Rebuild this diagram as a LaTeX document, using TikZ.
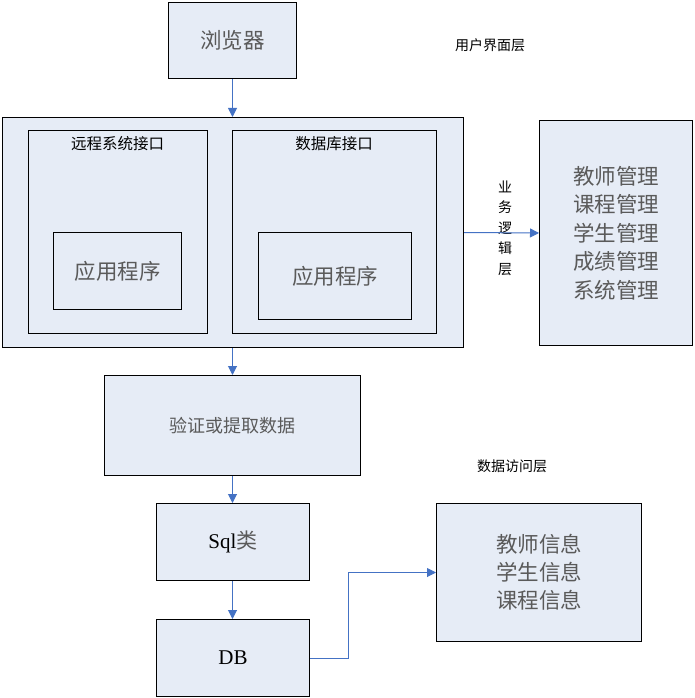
\documentclass[tikz,border=0pt]{standalone}
\usepackage{fontspec}
\setmainfont{Liberation Serif}
\newfontfamily\cjk{Noto Sans CJK SC}
\usetikzlibrary{arrows.meta,calc}
\definecolor{boxfill}{HTML}{E6ECF6}
\definecolor{arrowblue}{HTML}{4472C4}
\definecolor{txtgray}{HTML}{5A5A5A}
\begin{document}
\begin{tikzpicture}[x=1pt,y=-1pt,
  box/.style={draw=black,fill=boxfill,line width=1pt,inner sep=0pt,anchor=north west},
  bigtext/.style={font=\cjk\fontsize{21.5}{28.5}\selectfont,text=txtgray,align=center},
  smalltext/.style={font=\cjk\fontsize{14}{21}\selectfont,text=black,align=center},
  conn/.style={draw=arrowblue,line width=1pt,-{Triangle[width=9pt,length=9pt]}}]
\useasboundingbox (0,0) rectangle (694,698);
% boxes
\node[box,minimum width=128pt,minimum height=76pt] (browser) at (168,2) {};
\node[bigtext] at (browser.center) {浏览器};
\node[box,minimum width=461pt,minimum height=230pt] (big) at (2,117) {};
\node[box,minimum width=179pt,minimum height=203pt] (remote) at (28,130) {};
\node[smalltext,font=\cjk\fontsize{15.5}{21}\selectfont] at (117.5,144) {远程系统接口};
\node[box,minimum width=128pt,minimum height=77pt] (app1) at (53,232) {};
\node[bigtext] at (app1.center) {应用程序};
\node[box,minimum width=204pt,minimum height=203pt] (dbif) at (232,130) {};
\node[smalltext,font=\cjk\fontsize{15.5}{21}\selectfont] at (334,144) {数据库接口};
\node[box,minimum width=153pt,minimum height=87pt] (app2) at (258,232) {};
\node[bigtext] at (app2.center) {应用程序};
\node[box,minimum width=153pt,minimum height=225pt] (mgmt) at (539,120) {};
\node[bigtext] at (mgmt.center) {教师管理\\课程管理\\学生管理\\成绩管理\\系统管理};
\node[box,minimum width=256pt,minimum height=100pt] (verify) at (104,375) {};
\node[bigtext,font=\cjk\fontsize{18}{20}\selectfont] at (verify.center) {验证或提取数据};
\node[box,minimum width=153pt,minimum height=77pt] (sql) at (156,503) {};
\node[font=\fontsize{21}{24}\selectfont] at (sql.center) {Sql{\cjk\color{txtgray}类}};
\node[box,minimum width=153pt,minimum height=77pt] (db) at (156,619) {};
\node[font=\fontsize{21}{24}\selectfont] at (db.center) {DB};
\node[box,minimum width=205pt,minimum height=138pt] (info) at (436,503) {};
\node[bigtext,font=\cjk\fontsize{21.5}{28}\selectfont] at (info.center) {教师信息\\学生信息\\课程信息};
% labels
\node[smalltext] (ui) at (490,45) {用户界面层};
\node[smalltext,font=\cjk\fontsize{14}{20.5}\selectfont] (biz) at (505,228) {业\\务\\逻\\辑\\层};
\node[smalltext] (dal) at (512,466) {数据访问层};
% connectors
\draw[conn] (browser.south) -- (browser.south |- big.north);
\draw[conn] (big.east) -- (mgmt.west);
\draw[conn] (browser.south |- big.south) -- (browser.south |- verify.north);
\draw[conn] (browser.south |- verify.south) -- (browser.south |- sql.north);
\draw[conn] (browser.south |- sql.south) -- (browser.south |- db.north);
\coordinate (bend) at ($(db.east)+(38,0)$);
\draw[conn] (db.east) -- (bend) |- (info.west);
\end{tikzpicture}
\end{document}
